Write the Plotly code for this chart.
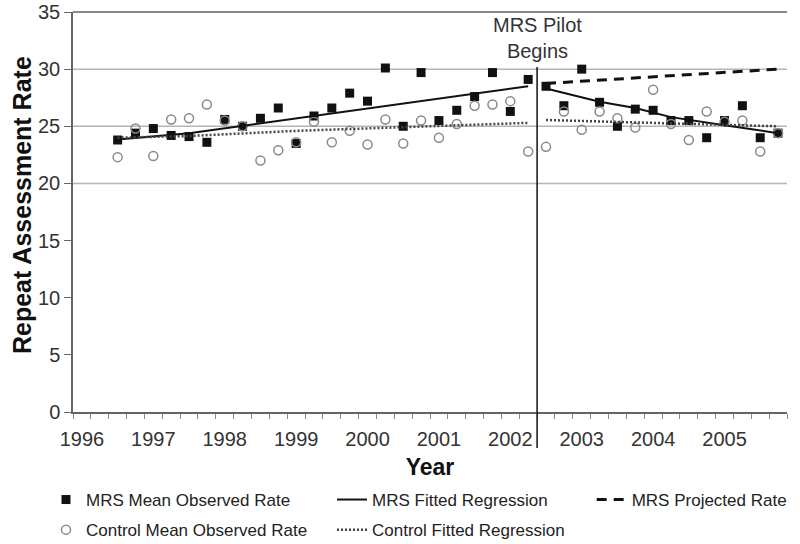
import plotly.graph_objects as go

# ---- data (quarterly, 1996 Q3 .. 2005 Q4) ----
years = [1996] * 2 + [y for y in range(1997, 2006) for _ in range(4)]
quarters = [3, 4] + [q for _ in range(1997, 2006) for q in (1, 2, 3, 4)]

mrs_observed = [23.8, 24.4, 24.8, 24.2, 24.1, 23.6, 25.6, 25.0, 25.7, 26.6,
                23.5, 25.9, 26.6, 27.9, 27.2, 30.1, 25.0, 29.7, 25.5, 26.4,
                27.6, 29.7, 26.3, 29.1, 28.5, 26.8, 30.0, 27.1, 25.0, 26.5,
                26.4, 25.5, 25.5, 24.0, 25.5, 26.8, 24.0, 24.4]
control_observed = [22.3, 24.8, 22.4, 25.6, 25.7, 26.9, 25.5, 25.0, 22.0, 22.9,
                    23.6, 25.4, 23.6, 24.6, 23.4, 25.6, 23.5, 25.5, 24.0, 25.2,
                    26.8, 26.9, 27.2, 22.8, 23.2, 26.3, 24.7, 26.3, 25.7, 24.9,
                    28.2, 25.2, 23.8, 26.3, 25.4, 25.5, 22.8, 24.4]

# fitted / projected lines (read at selected quarters)
mrs_fit_pre_year = [1996, 1997, 2002]
mrs_fit_pre_q = [3, 3, 2]
mrs_fit_pre = [23.85, 24.4, 28.5]
mrs_fit_post_year = [2002, 2003, 2003, 2004, 2005, 2005]
mrs_fit_post_q = [3, 2, 4, 2, 1, 4]
mrs_fit_post = [28.3, 27.15, 26.6, 25.8, 25.1, 24.4]
mrs_proj_year = [2002, 2005]
mrs_proj_q = [3, 4]
mrs_proj = [28.75, 30.0]
ctrl_fit_pre_year = [1996, 1997, 1999, 2002]
ctrl_fit_pre_q = [3, 3, 1, 2]
ctrl_fit_pre = [24.0, 24.15, 24.6, 25.3]
ctrl_fit_post_year = [2002, 2005]
ctrl_fit_post_q = [3, 4]
ctrl_fit_post = [25.55, 25.0]

pilot_start = 2002.5
year_labels = [str(y) for y in range(1996, 2006)]


def qpos(y, q):
    return [a + (b - 0.5) / 4 for a, b in zip(y, q)]


x_obs = qpos(years, quarters)
FONT = "Liberation Sans, Arial, sans-serif"

fig = go.Figure()
fig.add_trace(go.Scatter(x=x_obs, y=mrs_observed, mode="markers",
                         name="MRS Mean Observed Rate", legend="legend", legendgroup="a",
                         marker=dict(symbol="square", size=9, color="#111")))
fig.add_trace(go.Scatter(x=x_obs, y=control_observed, mode="markers",
                         name="Control Mean Observed Rate", legend="legend", legendgroup="b",
                         marker=dict(symbol="circle-open", size=9, color="#8a8a8a",
                                     line=dict(width=1.5, color="#8a8a8a"))))
fig.add_trace(go.Scatter(x=qpos(mrs_fit_pre_year, mrs_fit_pre_q), y=mrs_fit_pre, mode="lines",
                         name="MRS Fitted Regression", legend="legend2", legendgroup="c",
                         line=dict(color="#111", width=2)))
fig.add_trace(go.Scatter(x=qpos(mrs_fit_post_year, mrs_fit_post_q), y=mrs_fit_post, mode="lines",
                         name="MRS Fitted Regression", legend="legend2", legendgroup="c",
                         showlegend=False, line=dict(color="#111", width=2)))
fig.add_trace(go.Scatter(x=qpos(ctrl_fit_pre_year, ctrl_fit_pre_q), y=ctrl_fit_pre, mode="lines",
                         name="Control Fitted Regression", legend="legend2", legendgroup="d",
                         line=dict(color="#444", width=2.5, dash="2px,2px")))
fig.add_trace(go.Scatter(x=qpos(ctrl_fit_post_year, ctrl_fit_post_q), y=ctrl_fit_post, mode="lines",
                         name="Control Fitted Regression", legend="legend2", legendgroup="d",
                         showlegend=False, line=dict(color="#444", width=2.5, dash="2px,2px")))
fig.add_trace(go.Scatter(x=qpos(mrs_proj_year, mrs_proj_q), y=mrs_proj, mode="lines",
                         name="MRS Projected Rate", legend="legend3", legendgroup="e",
                         line=dict(color="#111", width=3, dash="10px,7px")))

# gridlines (only upper ones visible in the original)
for gv in [20, 25, 30]:
    fig.add_hline(y=gv, line=dict(color="#b5b5b5", width=1.5), layer="below")
fig.add_shape(type="line", xref="paper", yref="paper", x0=0, x1=1, y0=1, y1=1,
              line=dict(color="#8a8a8a", width=2), layer="below")

fig.add_shape(type="line", xref="x", yref="paper", x0=pilot_start, x1=pilot_start,
              y0=-0.09, y1=0.8625, line=dict(color="#111", width=1.5))
fig.add_annotation(xref="x", yref="paper", x=pilot_start, y=1.0, yanchor="top",
                   text="MRS Pilot<br>Begins", showarrow=False,
                   font=dict(family=FONT, size=20, color="#333"))
fig.add_annotation(xref="paper", yref="paper", x=-0.0714, y=0.5175, textangle=-90,
                   text="<b>Repeat Assessment Rate</b>", showarrow=False,
                   xanchor="center", yanchor="middle",
                   font=dict(family=FONT, size=25, color="#111"))

leg_common = dict(xref="container", yref="container", y=0.114, yanchor="top", xanchor="left",
                  font=dict(size=17, color="#222"), bgcolor="rgba(0,0,0,0)", tracegroupgap=5)

fig.update_layout(
    width=800, height=544,
    margin=dict(l=73, r=13, t=12, b=132, autoexpand=False),
    plot_bgcolor="white", paper_bgcolor="white",
    font=dict(family=FONT, color="#333"),
    xaxis=dict(range=[1996, 2006], tickvals=[int(y) + 0.125 for y in year_labels],
               ticktext=year_labels, ticks="", showgrid=False, zeroline=False,
               showline=True, linecolor="#666", linewidth=2,
               tickfont=dict(size=20, color="#333"), ticklabelstandoff=8,
               ticklabeloverflow="allow",
               minor=dict(ticks="outside", dtick=0.25, tick0=1996, ticklen=5,
                          tickcolor="#888", tickwidth=1, showgrid=False),
               title=dict(text="<b>Year</b>", font=dict(size=23, color="#111"), standoff=10)),
    yaxis=dict(range=[0, 35], tickvals=[0, 5, 10, 15, 20, 25, 30, 35],
               ticks="outside", ticklen=7, tickcolor="#666", showgrid=False, zeroline=False,
               showline=True, linecolor="#666", linewidth=1.5, ticklabeloverflow="allow",
               tickfont=dict(size=20, color="#333")),
    legend=dict(x=0.0575, **leg_common),
    legend2=dict(x=0.415, **leg_common),
    legend3=dict(x=0.7396, **leg_common),
)

fig.write_html("out.html", config={"displayModeBar": False},
               post_script="document.body.style.margin='0px';document.body.style.overflow='hidden';")
